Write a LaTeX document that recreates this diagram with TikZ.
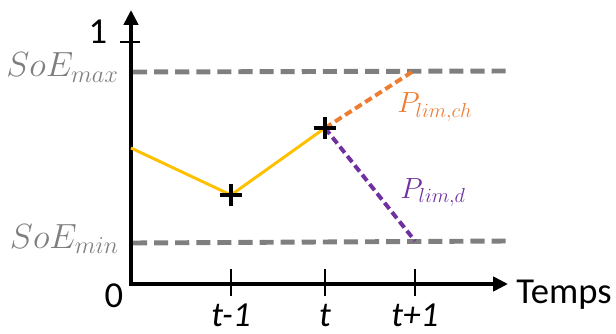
\documentclass[tikz,border=0pt]{standalone}
\usepackage{fontspec}
\setmainfont{Carlito}
\usepackage{tikz}
\usetikzlibrary{arrows.meta, positioning, shapes.misc}
\definecolor{soegray}{RGB}{127,127,127}
\definecolor{chorange}{RGB}{237,125,49}
\definecolor{dpurple}{RGB}{112,48,160}
\definecolor{soeyellow}{RGB}{255,192,0}

\begin{document}
\begin{tikzpicture}[x=0.025cm, y=-0.025cm,
    axis/.style={line width=2.8pt, line join=miter,
                 {Triangle[length=10.5pt,width=10pt]}-{Triangle[length=10.5pt,width=10pt]}},
    tickmark/.style={line width=2.1pt},
    limit/.style={draw=soegray, line width=3.5pt, dash pattern=on 10pt off 5pt},
    soeline/.style={draw=soeyellow, line width=2.1pt},
    pwline/.style={line width=2.8pt, dash pattern=on 5.5pt off 3pt},
    crossmark/.style={cross out, draw=black, line width=2.6pt, rotate=45,
                      minimum size=8.5pt, inner sep=0pt},
    axlbl/.style={font=\fontsize{26}{30}\selectfont, inner sep=0pt},
    tlbl/.style={font=\fontsize{25}{29}\selectfont\itshape, inner sep=0pt, anchor=base},
    soelbl/.style={font=\fontsize{23}{27}\selectfont, text=soegray, inner sep=0pt, anchor=base east},
    plbl/.style={font=\fontsize{22}{26}\selectfont, inner sep=0pt, anchor=base west},
  ]
    \useasboundingbox (0,0) rectangle (616,334);

    % axes
    \coordinate (O) at (131,284);
    \coordinate (ytop) at (131,10);
    \coordinate (xend) at (508,284);
    \draw[axis] (ytop) -- (O) -- (xend);
    \node[axlbl, anchor=base west] (temps) at (516,303) {Temps};
    \node[axlbl] (zero) at (114,296) {0};
    \node[axlbl] (one) at (98,32) {1};
    \draw[tickmark] (120,42) -- (140,42);

    % time ticks
    \foreach \x/\name/\lbl in {231/tm/t-1, 325/tn/t, 415/tp/t+1} {
      \draw[tickmark] (\x,269) -- (\x,296);
      \node[tlbl] (\name) at (\x,326) {\lbl};
    }

    % SoE limits
    \coordinate (maxL) at (133,72);
    \coordinate (maxR) at (508,71);
    \coordinate (minL) at (133,243);
    \coordinate (minR) at (508,241);
    \draw[limit] (maxL) -- (maxR);
    \draw[limit] (minL) -- (minR);
    \node[soelbl] (soemax) at (119,77) {$SoE_{max}$};
    \node[soelbl] (soemin) at (119,248) {$SoE_{min}$};

    % state of energy
    \coordinate (s0) at (131,148);
    \node[crossmark] (s1) at (231,195) {};
    \node[crossmark] (s2) at (325,128) {};
    \draw[soeline] (s0) -- (s1.center) -- (s2.center);

    % power limits
    \coordinate (ch) at (415,70);
    \coordinate (dch) at (415,241);
    \draw[pwline, draw=chorange] (s2.center) -- (ch);
    \draw[pwline, draw=dpurple] (s2.center) -- (dch);
    \node[plbl, text=chorange] (plimch) at (397,113) {$P_{lim,ch}$};
    \node[plbl, text=dpurple] (plimd) at (400,198) {$P_{lim,d}$};
    \node[crossmark] at (s1) {};
    \node[crossmark] at (s2) {};
  \end{tikzpicture}
\end{document}
